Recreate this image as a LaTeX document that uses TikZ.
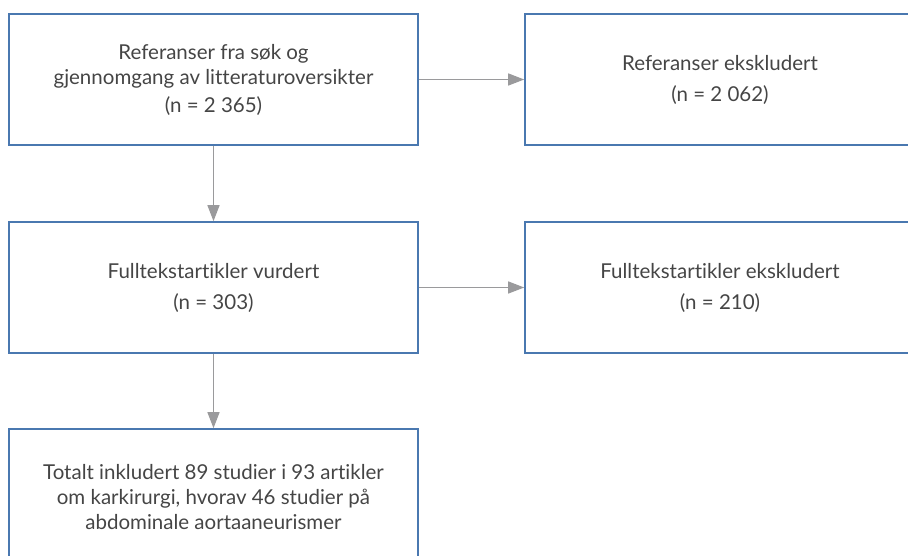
\documentclass[tikz,border=0pt]{standalone}
\usepackage{fontspec}
\setmainfont{Lato}[Ligatures=NoCommon]
\usetikzlibrary{arrows.meta}
\definecolor{box-blue}{HTML}{4A78B0}
\definecolor{arrow-grey}{HTML}{9A9A9C}
\definecolor{text-grey}{HTML}{454545}

\begin{document}
\begin{tikzpicture}[x=1pt,y=-1pt,
		flowbox/.style={draw=box-blue,line width=1.6pt,text=text-grey,align=center,inner sep=0pt,
			minimum height=131pt,font=\fontsize{20.5}{25}\selectfont},
		flowarrow/.style={draw=arrow-grey,line width=1.3pt,-{Triangle[length=16pt,width=12pt]}}]
				\clip (0,0) rectangle (908,556);
				\node [flowbox,minimum width=409pt] (refs) at (213.5,79.5) {Referanser fra søk og\\gjennomgang av litteraturoversikter\\[3pt](n = 2 365)};
				\node [flowbox,minimum width=390pt] (refsexcl) at (720,79.5) {Referanser ekskludert\\[6pt](n = 2 062)};
				\node [flowbox,minimum width=409pt] (fulltext) at (213.5,287.5) {Fulltekstartikler vurdert\\[6pt](n = 303)};
				\node [flowbox,minimum width=390pt] (fulltextexcl) at (720,287.5) {Fulltekstartikler ekskludert\\[6pt](n = 210)};
				\node [flowbox,minimum width=409pt,minimum height=137pt] (included) at (213.5,497.5) {Totalt inkludert 89 studier i 93 artikler\\om karkirurgi, hvorav 46 studier på\\abdominale aortaaneurismer};
				
				\draw [flowarrow] (refs.east) -- (refsexcl.west);
				\draw [flowarrow] (fulltext.east) -- (fulltextexcl.west);
				\draw [flowarrow] (refs.south) -- (fulltext.north);
				\draw [flowarrow] (fulltext.south) -- (included.north);
		\end{tikzpicture}
\end{document}
